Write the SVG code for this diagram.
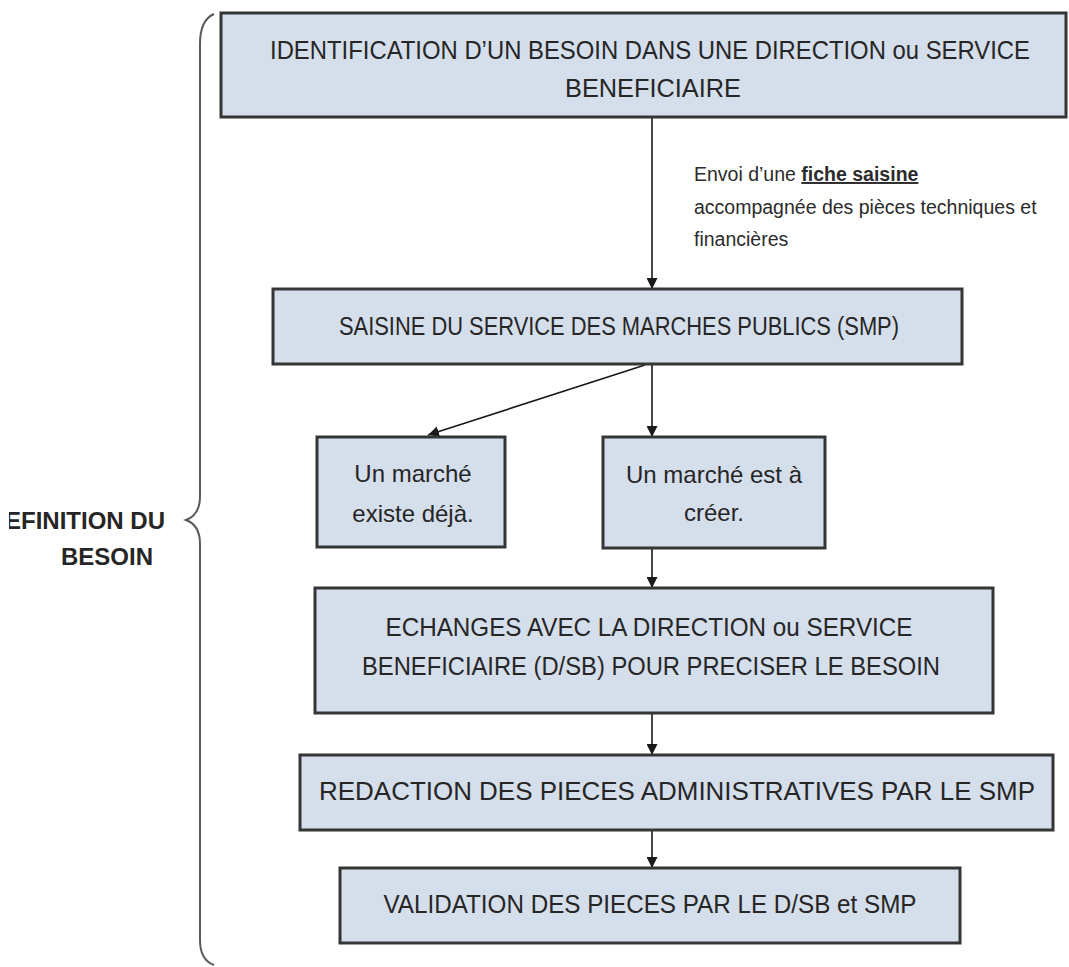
<svg xmlns="http://www.w3.org/2000/svg" width="1069" height="967" viewBox="0 0 1069 967">
  <style>
    .box { fill: #d5deeb; stroke: #353535; stroke-width: 3; }
    .t { font-family: "Liberation Sans", Arial, sans-serif; font-size: 25px; fill: #262626; text-anchor: middle; }
    .s { font-size: 24px; }
    .note { font-family: "Liberation Sans", Arial, sans-serif; font-size: 19.5px; fill: #2b2b2b; }
    .lbl { font-family: "Liberation Sans", Arial, sans-serif; font-size: 24px; font-weight: bold; fill: #262626; }
    .edge { fill: none; stroke: #1a1a1a; stroke-width: 1.6; marker-end: url(#arrow); }
    .brace { fill: none; stroke: #5a5a5a; stroke-width: 2; }
  </style>
  <defs>
    <marker id="arrow" viewBox="0 0 10 10" refX="10" refY="5" markerWidth="11" markerHeight="11" markerUnits="userSpaceOnUse" orient="auto">
      <path d="M0,0 L10,5 L0,10 z" fill="#1a1a1a"/>
    </marker>
    <clipPath id="lblclip">
      <rect x="9" y="470" width="200" height="120"/>
    </clipPath>
  </defs>

  <rect width="1069" height="967" fill="#ffffff"/>

  <!-- side label with curly brace -->
  <g id="label-definition">
    <path class="brace" d="M214,14 Q200,20 200,44 L200,496 Q200,515 186,520 Q200,525 200,544 L200,940 Q200,960 214,965"/>
    <g clip-path="url(#lblclip)">
      <text class="lbl" x="165" y="529" text-anchor="end">EFINITION DU</text>
    </g>
    <text class="lbl" x="107" y="565" text-anchor="middle">BESOIN</text>
  </g>

  <!-- connectors -->
  <g id="connectors">
    <line class="edge" x1="652" y1="118" x2="652" y2="289"/>
    <line class="edge" x1="652" y1="365" x2="652" y2="437"/>
    <line class="edge" x1="645" y1="365" x2="428" y2="435"/>
    <line class="edge" x1="652" y1="549" x2="652" y2="588"/>
    <line class="edge" x1="652" y1="714" x2="652" y2="755"/>
    <line class="edge" x1="652" y1="831" x2="652" y2="868"/>
  </g>

  <g id="note-fiche">
    <text class="note" x="694" y="181">Envoi d’une <tspan font-weight="bold" text-decoration="underline">fiche saisine</tspan></text>
    <text class="note" x="694" y="214">accompagnée des pièces techniques et</text>
    <text class="note" x="694" y="246">financières</text>
  </g>

  <g id="node-identification">
    <rect class="box" x="221" y="13" width="845" height="104"/>
    <text class="t" x="650" y="59" textLength="760" lengthAdjust="spacingAndGlyphs">IDENTIFICATION D’UN BESOIN DANS UNE DIRECTION ou SERVICE</text>
    <text class="t" x="653" y="97" textLength="176" lengthAdjust="spacingAndGlyphs">BENEFICIAIRE</text>
  </g>

  <g id="node-saisine">
    <rect class="box" x="273" y="289" width="689" height="75"/>
    <text class="t" x="619" y="335" textLength="560" lengthAdjust="spacingAndGlyphs">SAISINE DU SERVICE DES MARCHES PUBLICS (SMP)</text>
  </g>

  <g id="node-existe">
    <rect class="box" x="317" y="437" width="188" height="110"/>
    <text class="t s" x="413" y="482">Un marché</text>
    <text class="t s" x="413" y="522">existe déjà.</text>
  </g>

  <g id="node-creer">
    <rect class="box" x="603" y="437" width="222" height="111"/>
    <text class="t s" x="714" y="483">Un marché est à</text>
    <text class="t s" x="714" y="521">créer.</text>
  </g>

  <g id="node-echanges">
    <rect class="box" x="315" y="588" width="678" height="125"/>
    <text class="t" x="649" y="636" textLength="527" lengthAdjust="spacingAndGlyphs">ECHANGES AVEC LA DIRECTION ou SERVICE</text>
    <text class="t" x="651" y="675" textLength="578" lengthAdjust="spacingAndGlyphs">BENEFICIAIRE (D/SB) POUR PRECISER LE BESOIN</text>
  </g>

  <g id="node-redaction">
    <rect class="box" x="300" y="755" width="753" height="75"/>
    <text class="t" x="677" y="800" textLength="716" lengthAdjust="spacingAndGlyphs">REDACTION DES PIECES ADMINISTRATIVES PAR LE SMP</text>
  </g>

  <g id="node-validation">
    <rect class="box" x="340" y="868" width="620" height="75"/>
    <text class="t" x="650" y="913" textLength="533" lengthAdjust="spacingAndGlyphs">VALIDATION DES PIECES PAR LE D/SB et SMP</text>
  </g>
</svg>
